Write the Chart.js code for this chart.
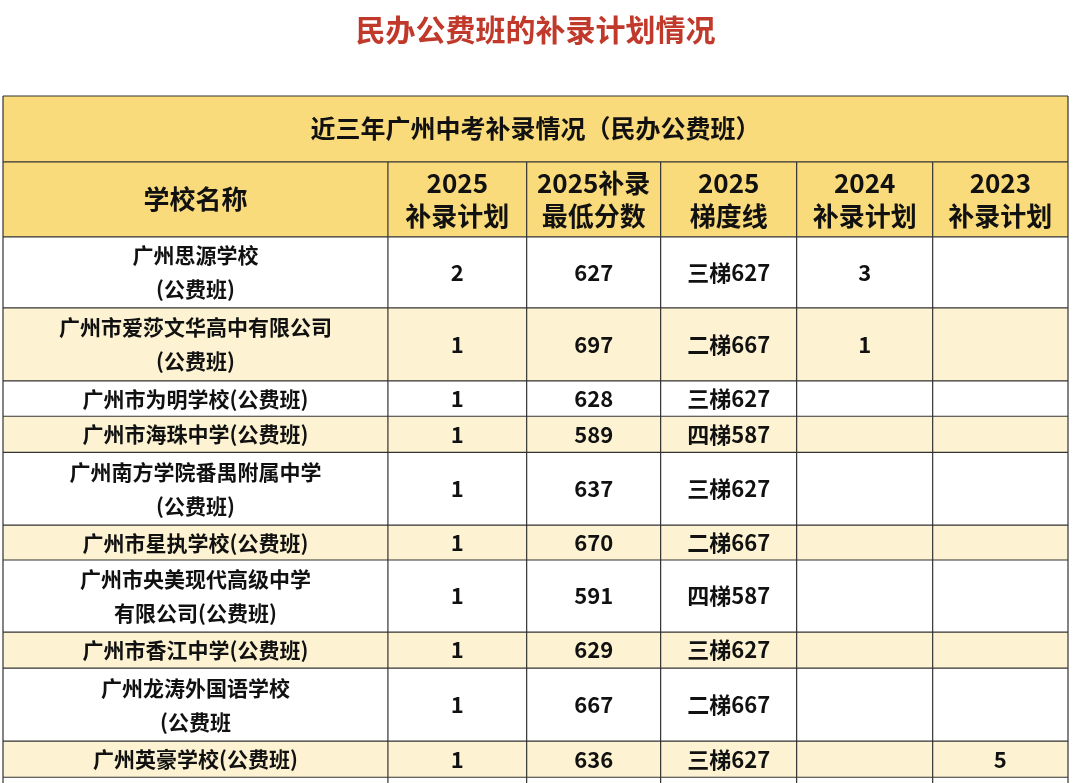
<!DOCTYPE html>
<html><head><meta charset="utf-8">
<script src="https://cdn.jsdelivr.net/npm/chart.js@4/dist/chart.umd.min.js"></script>
<style>html,body{margin:0;padding:0;background:#fff;}#wrap{width:1080px;height:783px;position:relative;}</style>
</head><body><div id="wrap"><canvas id="c" width="1080" height="783"></canvas></div>
<script>
const pageTitle = "民办公费班的补录计划情况";
const tableTitle = "近三年广州中考补录情况（民办公费班）";
const headers = [["学校名称"],["2025","补录计划"],["2025补录","最低分数"],["2025","梯度线"],["2024","补录计划"],["2023","补录计划"]];
const schools = [["广州思源学校","(公费班)"],["广州市爱莎文华高中有限公司","(公费班)"],["广州市为明学校(公费班)"],["广州市海珠中学(公费班)"],["广州南方学院番禺附属中学","(公费班)"],["广州市星执学校(公费班)"],["广州市央美现代高级中学","有限公司(公费班)"],["广州市香江中学(公费班)"],["广州龙涛外国语学校","(公费班"],["广州英豪学校(公费班)"],[""]];
const plan2025 = ["2","1","1","1","1","1","1","1","1","1",""];
const minScore2025 = ["627","697","628","589","637","670","591","629","667","636",""];
const tier2025 = ["三梯627","二梯667","三梯627","四梯587","三梯627","二梯667","四梯587","三梯627","二梯667","三梯627",""];
const plan2024 = ["3","1","","","","","","","","",""];
const plan2023 = ["","","","","","","","","","5",""];
const colUnits = [2.83,1.02,0.985,1,1,0.995];
const titleUnits = 1.83, headerUnits = 2.08;
const rowUnits = [1.97,2.03,0.98,1,2.02,0.97,2,1,2.03,1,1];
const yMax = 19.07;

const cols = [schools, plan2025, minScore2025, tier2025, plan2024, plan2023];
const colEdges = [0]; colUnits.forEach(u=>colEdges.push(colEdges[colEdges.length-1]+u));

const tablePlugin = {
  id:'table',
  afterDraw(chart){
    const ctx = chart.ctx, xs = chart.scales.x, ys = chart.scales.y;
    const X = v=>xs.getPixelForValue(v), Y = v=>ys.getPixelForValue(v);
    const x0 = X(0), x1 = X(colEdges[colEdges.length-1]);
    ctx.save();
    ctx.beginPath(); ctx.rect(0,0,chart.width,chart.height); ctx.clip();
    // title row
    let y = 0;
    ctx.fillStyle = '#f9db7b';
    ctx.fillRect(x0, Y(0), x1-x0, Y(titleUnits+headerUnits)-Y(0));
    ctx.fillStyle = '#111'; ctx.textAlign='center'; ctx.textBaseline='middle';
    ctx.font = 'bold 25px "Noto Sans CJK SC"';
    ctx.fillText(tableTitle, (x0+x1)/2, Y(titleUnits/2));
    y = titleUnits;
    // header
    ctx.font = 'bold 26px "Noto Sans CJK SC"';
    headers.forEach((h,i)=>{
      const cx = (X(colEdges[i])+X(colEdges[i+1]))/2, cy = Y(y+headerUnits/2);
      const lh = 33;
      h.forEach((t,k)=>ctx.fillText(t, cx, cy + (k-(h.length-1)/2)*lh));
    });
    const rowTops = [];
    let yy = titleUnits+headerUnits;
    rowUnits.forEach((u,r)=>{
      rowTops.push(yy);
      ctx.fillStyle = r%2 ? '#fdf3d2' : '#ffffff';
      ctx.fillRect(x0, Y(yy), x1-x0, Y(yy+u)-Y(yy));
      ctx.fillStyle = '#111';
      cols.forEach((col,i)=>{
        const cx = (X(colEdges[i])+X(colEdges[i+1]))/2, cy = Y(yy+u/2);
        if(i===0){
          ctx.font = 'bold 21px "Noto Sans CJK SC"';
          const lines = col[r];
          lines.forEach((t,k)=>ctx.fillText(t, cx, cy + (k-(lines.length-1)/2)*34));
        } else {
          ctx.font = 'bold 22px "Noto Sans CJK SC"';
          ctx.fillText(col[r], cx, cy);
        }
      });
      yy += u;
    });
    // grid lines
    ctx.strokeStyle = '#333'; ctx.lineWidth = 1.2;
    ctx.beginPath();
    [0, titleUnits].concat(rowTops, [yy]).forEach(v=>{ctx.moveTo(x0,Y(v));ctx.lineTo(x1,Y(v));});
    ctx.moveTo(x0,Y(titleUnits+headerUnits));ctx.lineTo(x1,Y(titleUnits+headerUnits));
    ctx.moveTo(x0,Y(0));ctx.lineTo(x0,Y(yy));
    ctx.moveTo(x1,Y(0));ctx.lineTo(x1,Y(yy));
    colEdges.slice(1,-1).forEach(v=>{ctx.moveTo(X(v),Y(titleUnits));ctx.lineTo(X(v),Y(yy));});
    ctx.stroke();
    ctx.restore();
  }
};

new Chart(document.getElementById('c'), {
  type:'scatter',
  data:{datasets:[{data:[]}]},
  options:{
    responsive:false, animation:false, devicePixelRatio:1,
    layout:{padding:{left:3,right:12,top:96,bottom:0}},
    plugins:{legend:{display:false},tooltip:{enabled:false},
      title:{display:true,text:pageTitle,color:'#c0392b',font:{size:30,weight:'bold',family:'"Noto Sans CJK SC"'},padding:{top:-84,bottom:0}}},
    scales:{
      x:{type:'linear',display:false,min:0,max:colEdges[colEdges.length-1]},
      y:{type:'linear',display:false,reverse:true,min:0,max:yMax}
    }
  },
  plugins:[tablePlugin]
});
</script></body></html>
